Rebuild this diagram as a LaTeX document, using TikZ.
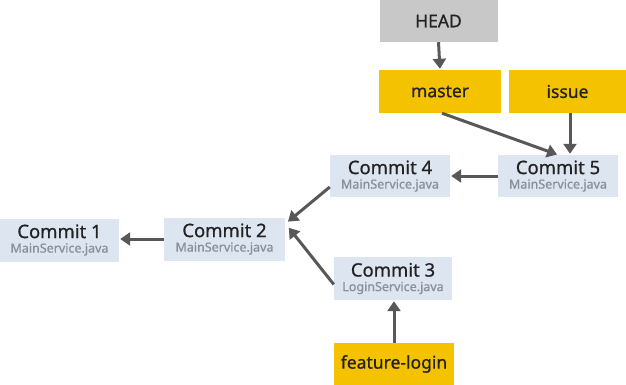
\documentclass[tikz,border=0pt]{standalone}
\usepackage{fontspec}
\setmainfont{Noto Sans}
\newfontfamily\medfont{Noto Sans}[FakeBold=0.8]
\usetikzlibrary{arrows.meta,calc}
\definecolor{headgray}{HTML}{C8C8C8}
\definecolor{branchyellow}{HTML}{F5C200}
\definecolor{commitblue}{HTML}{DDE5F1}
\definecolor{maintext}{HTML}{222222}
\definecolor{subtext}{HTML}{8A8F99}
\definecolor{arrowgray}{HTML}{585858}
\tikzset{
  box/.style={rectangle, inner sep=0pt, minimum width=#1, minimum height=42pt, text=maintext,
    font=\medfont\fontsize{17.5}{17.5}\selectfont},
  refbox/.style={box=#1, fill=branchyellow},
  headbox/.style={box=#1, fill=headgray},
  commitbox/.style={box=#1, fill=commitblue, align=center},
  arr/.style={draw=arrowgray, line width=3pt, -{Triangle[length=10pt,width=13pt]}, shorten >=1pt}
}
\newcommand{\commit}[2]{{\fontsize{18.5}{20}\selectfont #1}\\[-3pt]{\fontsize{12.5}{13}\selectfont\color{subtext}#2}}
\begin{document}
\begin{tikzpicture}[x=1pt,y=-1pt]
\useasboundingbox (0,0) rectangle (626,385);
\node[headbox=118pt] (head) at (438.5,21) {HEAD};
\node[refbox=122pt, minimum height=43pt] (master) at (440,91.5) {master};
\node[refbox=117pt, minimum height=43pt] (issue) at (567.5,91.5) {issue};
\node[commitbox=120pt] (c5) at (558,176) {\commit{Commit 5}{MainService.java}};
\node[commitbox=120pt] (c4) at (390,176) {\commit{Commit 4}{MainService.java}};
\node[commitbox=121pt, minimum height=43pt] (c2) at (224.5,239) {\commit{Commit 2}{MainService.java}};
\node[commitbox=119pt, minimum height=43pt] (c1) at (59.5,240) {\commit{Commit 1}{MainService.java}};
\node[commitbox=118pt, minimum height=43pt] (c3) at (393,278.5) {\commit{Commit 3}{LoginService.java}};
\node[refbox=120pt] (fl) at (394,364) {feature-login};

\draw[arr] (head.south) -- (master.north);
\draw[arr] ([xshift=2pt]master.south) -- (c5.north);
\draw[arr] ([xshift=2.5pt]issue.south) -- ([xshift=2.5pt]issue.south |- c5.north);
\draw[arr] (c5.west) -- (c4.east);
\draw[arr] ([yshift=-11pt]c4.west) -- ([xshift=2pt,yshift=-5pt]c2.north east);
\draw[arr] (c2.west) -- (c1.east |- c2.west);
\draw[arr] ([yshift=-6pt]c3.west) -- ([xshift=3pt,yshift=12pt]c2.east);
\draw[arr] (fl.north) -- (fl.north |- c3.south);
\end{tikzpicture}
\end{document}
